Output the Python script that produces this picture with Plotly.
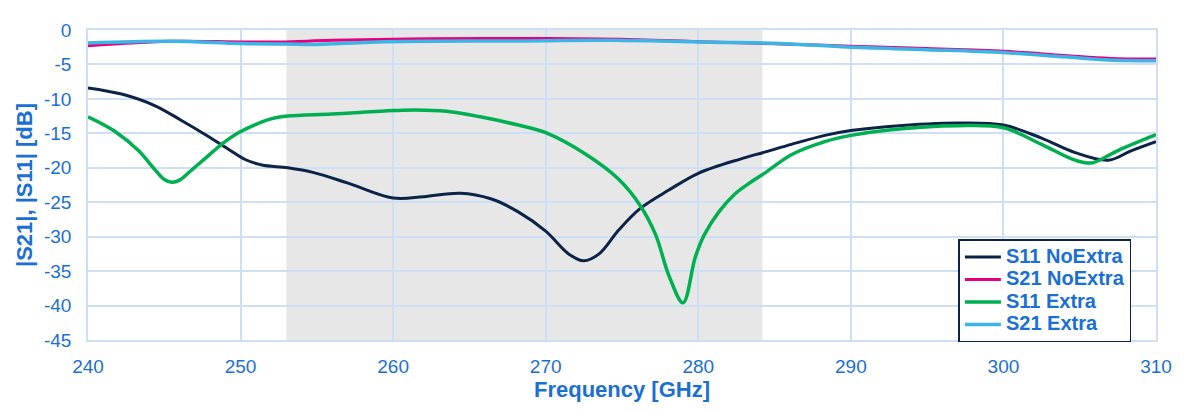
import plotly.graph_objects as go

# ---------------- data ----------------
f_s11_noextra = [240, 242.2, 244.4, 246.1, 247.7, 249.2, 250.3, 251.4, 253.1, 254.8, 257, 260, 262, 264.4,
                 266.4, 268.2, 270, 271.5, 272.5, 273.5, 274.8, 276.2, 278.1, 280, 282.8, 284.4, 286.1,
                 288.3, 290, 292.5, 297, 300, 302.5, 304.7, 306.9, 308.4, 310]
s11_noextra = [-8.4, -9.3, -11.0, -13.1, -15.2, -17.3, -18.8, -19.6, -20.0, -20.7, -22.2, -24.4, -24.2, -23.7,
               -24.5, -26.4, -29.2, -32.5, -33.5, -32.5, -29.0, -25.9, -23.2, -20.8, -18.7, -17.7, -16.6,
               -15.3, -14.6, -14.0, -13.5, -13.8, -15.7, -17.8, -18.9, -17.5, -16.2]

f_s11_extra = [240, 241.75, 243.3, 244.4, 245.0, 245.5, 246.0, 246.6, 247.7, 248.7, 249.8, 250.9, 252, 253.1,
               256, 260, 261.5, 263.5, 265.7, 268.2, 270, 272.6, 274.8, 276.2, 277.2, 278.1, 279.0,
               279.8, 280.4, 281.35, 282.4, 283.5, 284.4, 286.1, 288.3, 290, 292.5, 297, 300, 302.5,
               304.7, 305.8, 307.5, 310]
s11_extra = [-12.6, -14.7, -17.5, -20.3, -21.7, -22.1, -21.8, -20.7, -18.6, -16.7, -15.0, -13.8, -12.9, -12.5,
             -12.2, -11.7, -11.6, -11.8, -12.6, -13.8, -14.9, -18.0, -21.7, -25.5, -29.7, -35.8, -39.6,
             -33.0, -29.7, -26.4, -23.8, -22.0, -20.7, -18.1, -16.2, -15.3, -14.5, -13.9, -14.2, -16.6,
             -18.9, -19.3, -17.5, -15.2]

f_s21_noextra = [240, 245.4, 250, 252.6, 256, 262.4, 270, 276, 280, 285, 290, 295, 300, 304, 307, 310]
s21_noextra = [-2.3, -1.65, -1.73, -1.73, -1.5, -1.26, -1.25, -1.4, -1.7, -2.0, -2.35, -2.7, -3.1, -3.7, -4.12, -4.2]

f_s21_extra = [240, 245.4, 250, 253, 255, 259, 267.8, 274.3, 280.9, 285.3, 289.8, 295, 300, 304, 306.9, 310]
s21_extra = [-1.87, -1.64, -1.97, -2.05, -2.1, -1.73, -1.59, -1.5, -1.77, -1.95, -2.48, -2.85, -3.27, -3.9, -4.35, -4.45]

band = [253.0, 284.2]
x_ticks = [240, 250, 260, 270, 280, 290, 300, 310]
y_ticks = [0, -5, -10, -15, -20, -25, -30, -35, -40, -45]
y_tick_text = ["0", "-5", "-10", "-15", "-20", "-25", "-30", "-35", "-40", "-45"]

# ---------------- styling ----------------
TXT = "#1a6fd6"
GRID = "#cddff5"
FONT = "Liberation Sans, Arial, sans-serif"

series = [
    ("S11 NoExtra", f_s11_noextra, s11_noextra, "#0b2346", 3),
    ("S21 NoExtra", f_s21_noextra, s21_noextra, "#e6007e", 3),
    ("S11 Extra", f_s11_extra, s11_extra, "#00b050", 3.5),
    ("S21 Extra", f_s21_extra, s21_extra, "#3cb4e5", 3.5),
]

fig = go.Figure()
for name, xs, ys, col, w in series:
    label = f'<b><span style="font-size:20px">{name}</span></b>'
    fig.add_trace(go.Scatter(x=xs, y=ys, mode="lines", name=label,
                             line=dict(color=col, width=w, shape="spline", smoothing=1.0)))

fig.add_shape(type="rect", xref="x", yref="y", x0=band[0], x1=band[1], y0=y_ticks[-1], y1=y_ticks[0],
              fillcolor="#e7e7e7", line_width=0, layer="below")

fig.update_layout(
    width=1176, height=402,
    margin=dict(l=80, r=26, t=14, b=68),
    paper_bgcolor="white", plot_bgcolor="white",
    font=dict(family=FONT, color=TXT, size=19),
    showlegend=True,
    legend=dict(x=0.815, y=0.325, xanchor="left", yanchor="top",
                bgcolor="white", bordercolor="#0b2346", borderwidth=1.5,
                font=dict(family=FONT, size=15, color=TXT),
                itemwidth=36, tracegroupgap=0),
)
fig.update_xaxes(range=[x_ticks[0], x_ticks[-1]], tickvals=x_ticks, ticks="",
                 showgrid=True, gridcolor=GRID, gridwidth=1.5,
                 showline=True, linecolor=GRID, linewidth=1.5, mirror=True, zeroline=False,
                 tickfont=dict(size=19, color=TXT), ticklabelstandoff=8,
                 title=dict(text="<b>Frequency [GHz]</b>", font=dict(size=22, color=TXT), standoff=6))
fig.update_yaxes(range=[y_ticks[-1], y_ticks[0]], tickvals=y_ticks, ticktext=y_tick_text, ticks="",
                 showgrid=True, gridcolor=GRID, gridwidth=1.5,
                 showline=True, linecolor=GRID, linewidth=1.5, mirror=True, zeroline=False,
                 tickfont=dict(size=19, color=TXT), ticklabelstandoff=11,
                 title=dict(text="<b>|S21|, |S11| [dB]</b>", font=dict(size=22, color=TXT), standoff=5))

fig.write_html("out.html")
